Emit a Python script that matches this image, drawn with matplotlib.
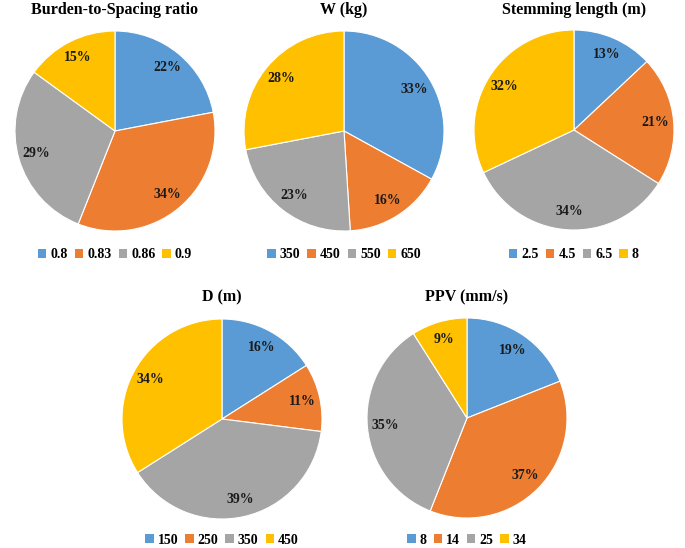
import matplotlib.pyplot as plt
from matplotlib.patches import Patch

plt.rcParams.update({'font.family': 'serif', 'font.serif': ['Liberation Serif'], 'font.weight': 'bold'})

colors = ['#5B9BD5', '#ED7D31', '#A5A5A5', '#FFC000']

titles = ['Burden-to-Spacing ratio', 'W (kg)', 'Stemming length (m)', 'D (m)', 'PPV (mm/s)']

bs_labels = ['0.8', '0.83', '0.86', '0.9']
bs_vals = [22, 34, 29, 15]

w_labels = ['350', '450', '550', '650']
w_vals = [33, 16, 23, 28]

st_labels = ['2.5', '4.5', '6.5', '8']
st_vals = [13, 21, 34, 32]

d_labels = ['150', '250', '350', '450']
d_vals = [16, 11, 39, 34]

ppv_labels = ['8', '14', '25', '34']
ppv_vals = [19, 37, 35, 9]

W, H = 685, 548
fig = plt.figure(figsize=(W / 100, H / 100), dpi=100)

# pie centre (px), title y, legend y
layout = [(115, 131, 10, 255), (344, 131, 10, 255), (574, 130, 10, 255),
          (222, 419, 297, 540), (467, 418, 297, 540)]
data = [(bs_labels, bs_vals), (w_labels, w_vals), (st_labels, st_vals),
        (d_labels, d_vals), (ppv_labels, ppv_vals)]

r = 100
for (cx, cy, ty, ly), (labs, vals), title in zip(layout, data, titles):
    ax = fig.add_axes([(cx - r) / W, 1 - (cy + r) / H, 2 * r / W, 2 * r / H])
    ax.pie(vals, colors=colors, startangle=90, counterclock=False,
           autopct='%1.0f%%', pctdistance=0.82, radius=1,
           wedgeprops=dict(edgecolor='white', linewidth=0.8),
           textprops=dict(fontsize=10, fontweight='bold', color='#1a1a1a'))
    ax.set_xlim(-1, 1)
    ax.set_ylim(-1, 1)
    ax.set_aspect('equal')
    ax.axis('off')
    fig.text(cx / W, 1 - ty / H, title, ha='center', va='center', fontsize=11.5, fontweight='bold')
    handles = [Patch(facecolor=c, edgecolor='none') for c in colors]
    fig.legend(handles, labs, loc='center', bbox_to_anchor=(cx / W, 1 - ly / H), ncol=4,
               frameon=False, handlelength=0.6, handleheight=0.6, handletextpad=0.3,
               columnspacing=0.5, borderpad=0.2, prop=dict(size=10, weight='bold'))

fig.savefig('out.png', dpi=100)
